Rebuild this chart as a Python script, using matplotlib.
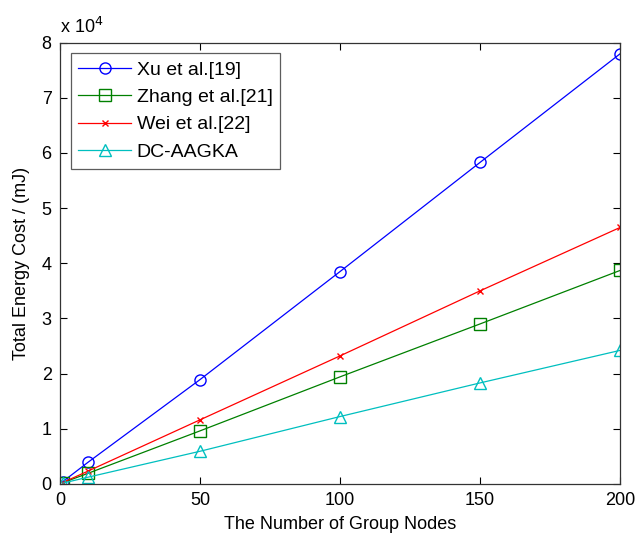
import matplotlib.pyplot as plt
from matplotlib.ticker import FuncFormatter

plt.rcParams['font.family'] = ['Liberation Sans', 'DejaVu Sans']

nodes = [1, 10, 50, 100, 150, 200]
xu = [390, 3900, 18900, 38500, 58300, 78000]
zhang = [195, 1900, 9600, 19400, 29000, 38700]
wei = [230, 2300, 11600, 23200, 35000, 46500]
dc_aagka = [120, 1200, 5900, 12200, 18300, 24200]

fig = plt.figure(figsize=(6.38, 5.34), dpi=100)
ax = fig.add_axes([0.094, 0.094, 0.878, 0.826])

ax.plot(nodes, xu, color='blue', marker='o', markersize=8, mfc='none', lw=0.9, label='Xu et al.[19]')
ax.plot(nodes, zhang, color=(0, 0.5, 0), marker='s', markersize=8, mfc='none', lw=0.9, label='Zhang et al.[21]')
ax.plot(nodes, wei, color='red', marker='x', markersize=5, lw=0.9, label='Wei et al.[22]')
ax.plot(nodes, dc_aagka, color=(0, 0.75, 0.75), marker='^', markersize=8, mfc='none', lw=0.9, label='DC-AAGKA')

ax.set_xlim(0, 200)
ax.set_ylim(0, 80000)
ax.set_xticks([0, 50, 100, 150, 200])
ax.set_yticks(range(0, 80001, 10000))
ax.yaxis.set_major_formatter(FuncFormatter(lambda v, p: '%d' % round(v / 10000)))
ax.tick_params(direction='in', top=True, right=True, labelsize=13, length=5, pad=6)
for s in ax.spines.values():
    s.set_linewidth(0.9)
    s.set_color('#333333')

ax.text(0.0, 1.012, r'x 10$^4$', transform=ax.transAxes, fontsize=13, va='bottom', ha='left')

ax.set_xlabel('The Number of Group Nodes', fontsize=13, labelpad=5)
ax.set_ylabel('Total Energy Cost / (mJ)', fontsize=13, labelpad=8)

leg = ax.legend(loc='upper left', fontsize=14, fancybox=False, edgecolor='#333333',
                borderaxespad=0.55, handlelength=2.7, handletextpad=0.3,
                labelspacing=0.5, borderpad=0.4)
leg.get_frame().set_linewidth(0.9)

fig.savefig('out.png')
